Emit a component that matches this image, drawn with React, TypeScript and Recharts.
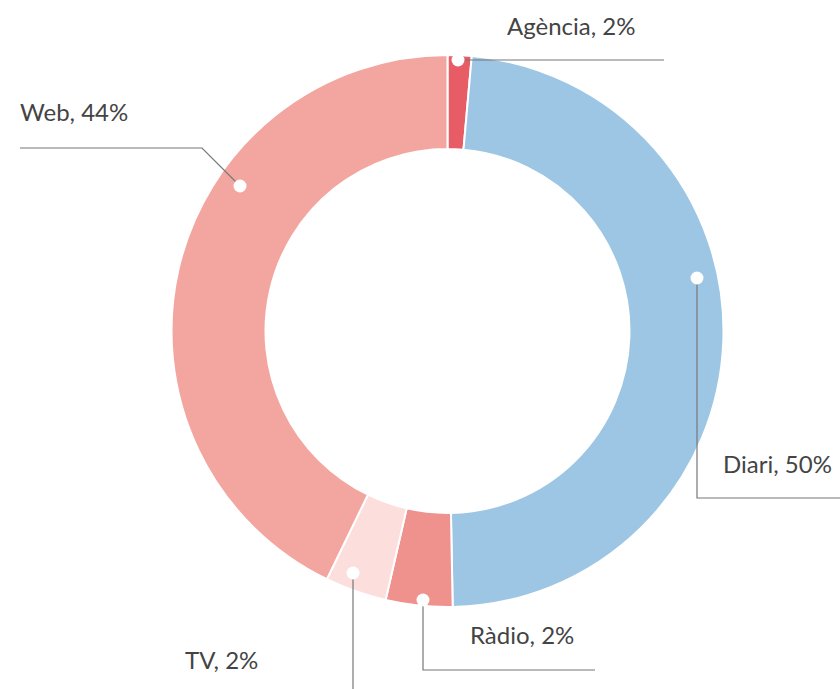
import React from "react";
import { PieChart, Pie, Cell } from "recharts";

// slice order runs clockwise from 12 o'clock
const categories = ["Agència", "Diari", "Ràdio", "TV", "Web"];
const shares = [1.4, 48.3, 3.9, 3.6, 42.8];
const shownPct = ["2%", "50%", "2%", "2%", "44%"];
const sliceColors = ["#E85C65", "#9CC6E3", "#EF928D", "#FCDFDC", "#F3A69F"];

const data = categories.map((name, i) => ({ name, value: shares[i] }));

// leader line layout, offsets from the pie centre
const labelLayout = [
  { dot: [10.5, -271], path: [[216.5, -271]], text: [59.5, -296] },
  { dot: [249.5, -53], path: [[249.5, 167], [392.5, 167]], text: [275.5, 142] },
  { dot: [-24.5, 269], path: [[-24.5, 339], [147.5, 339]], text: [22.5, 313] },
  { dot: [-94.5, 242], path: [[-94.5, 358]], text: [-262.5, 338] },
  { dot: [-207.5, -145], path: [[-245.5, -183], [-427.5, -183]], text: [-427.5, -210] },
];

function renderLabel(props: any) {
  const { cx, cy, index } = props;
  const l = labelLayout[index];
  const pts = [l.dot, ...l.path].map(([x, y]) => `${cx + x},${cy + y}`).join(" ");
  return (
    <g key={`lbl-${index}`}>
      <polyline points={pts} fill="none" stroke="#777" strokeWidth={1.2} />
      <circle cx={cx + l.dot[0]} cy={cy + l.dot[1]} r={6.5} fill="#fff" />
      <text
        x={cx + l.text[0]}
        y={cy + l.text[1]}
        fill="#444"
        fontSize={24}
        fontFamily="Lato, 'Open Sans', sans-serif"
        textAnchor="start"
      >
        {`${categories[index]}, ${shownPct[index]}`}
      </text>
    </g>
  );
}

export default function App() {
  return (
    <div style={{ position: "absolute", left: 0, top: 0, width: 840, height: 689, background: "#fff" }}>
      <PieChart width={840} height={689} margin={{ top: 0, right: 0, bottom: 0, left: 0 }}>
        <Pie
          data={data}
          dataKey="value"
          cx={447.5}
          cy={331}
          innerRadius={182}
          outerRadius={276}
          startAngle={90}
          endAngle={-270}
          stroke="#fff"
          strokeWidth={2}
          label={renderLabel}
          labelLine={false}
          isAnimationActive={false}
        >
          {data.map((d, i) => (
            <Cell key={d.name} fill={sliceColors[i]} />
          ))}
        </Pie>
      </PieChart>
    </div>
  );
}
